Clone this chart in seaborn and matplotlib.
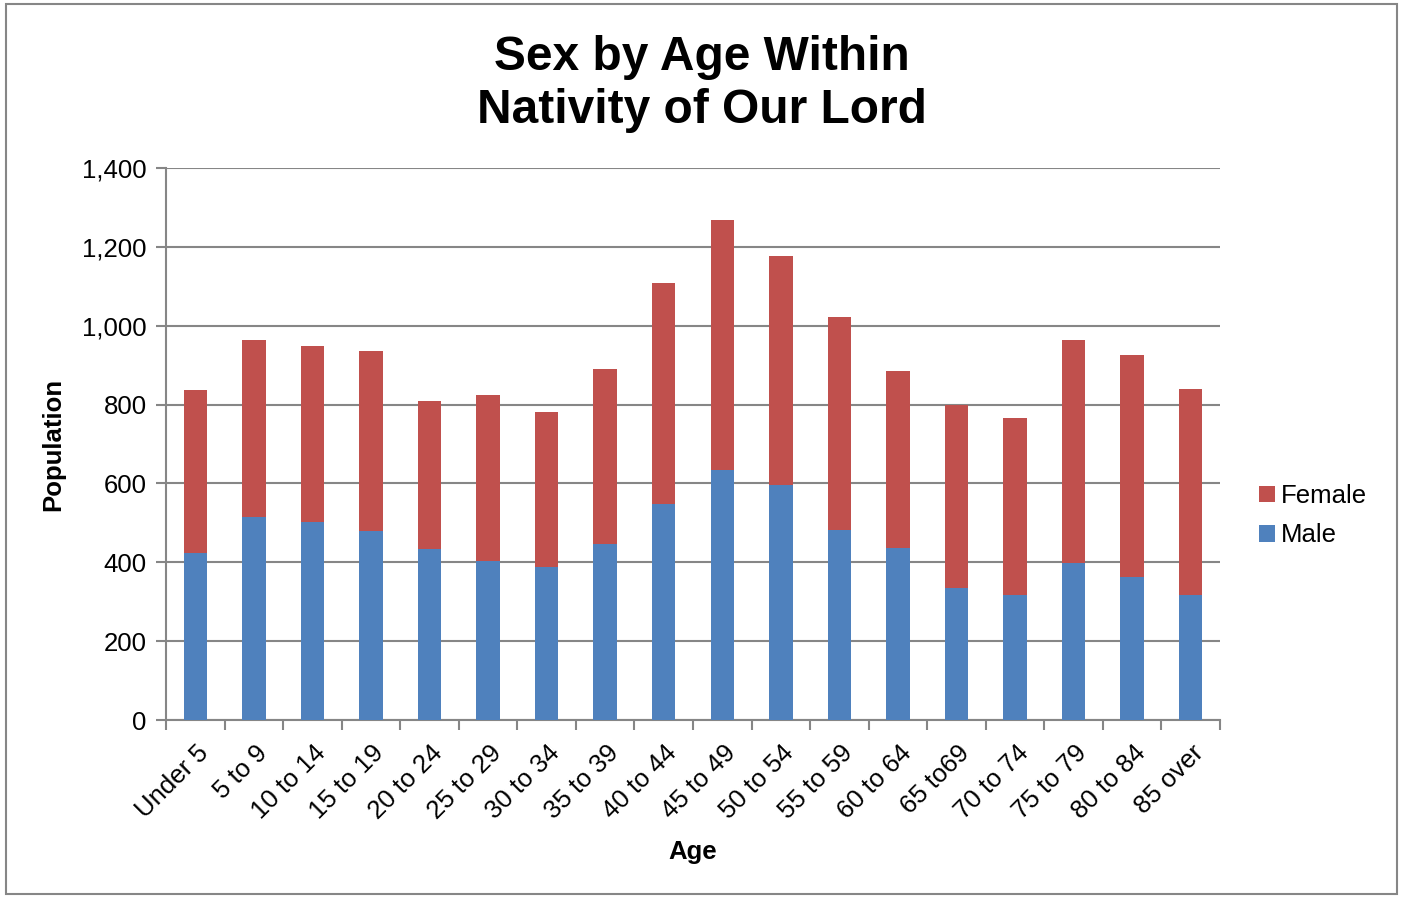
import pandas as pd
import seaborn as sns
import matplotlib.pyplot as plt
from matplotlib.patches import Rectangle
from matplotlib.ticker import FuncFormatter, FixedLocator
from matplotlib.transforms import ScaledTranslation

# Age groups and counts
ages = ["Under 5", "5 to 9", "10 to 14", "15 to 19", "20 to 24", "25 to 29",
        "30 to 34", "35 to 39", "40 to 44", "45 to 49", "50 to 54", "55 to 59",
        "60 to 64", "65 to69", "70 to 74", "75 to 79", "80 to 84", "85 over"]
male = [423, 516, 501, 479, 433, 403, 387, 446, 547, 635, 595, 482,
        437, 334, 316, 397, 363, 316]
female = [414, 447, 447, 458, 375, 422, 393, 445, 562, 632, 581, 540,
          448, 466, 449, 568, 562, 523]

df = pd.DataFrame({"Age": ages, "Male": male, "Female": female})
df["Total"] = df["Male"] + df["Female"]

sns.set_style("white")
plt.rcParams["font.family"] = ["Liberation Sans", "DejaVu Sans"]
plt.rcParams["text.color"] = "black"
plt.rcParams["axes.labelcolor"] = "black"

fig = plt.figure(figsize=(14.03, 8.97), dpi=100)
ax = fig.add_axes([0.1183, 0.1973, 0.7513, 0.6154])

# stacked: draw total in female colour, male on top of it
sns.barplot(data=df, x="Age", y="Total", color="#C0504D", width=0.4,
            saturation=1, ax=ax, label="Female", zorder=3, linewidth=0)
sns.barplot(data=df, x="Age", y="Male", color="#4F81BD", width=0.4,
            saturation=1, ax=ax, label="Male", zorder=3, linewidth=0)

ax.set_ylim(0, 1400)
ax.set_xlim(-0.5, len(ages) - 0.5)
ax.set_yticks(range(0, 1401, 200))
ax.yaxis.set_major_formatter(FuncFormatter(lambda v, p: f"{int(v):,}"))
ax.grid(axis="y", color="#868686", linewidth=1.5, zorder=0)
ax.set_axisbelow(True)

for s in ["top", "right"]:
    ax.spines[s].set_visible(False)
for s in ["left", "bottom"]:
    ax.spines[s].set_color("#868686")
    ax.spines[s].set_linewidth(1.5)

ax.tick_params(axis="y", which="major", left=True, length=7, width=1.5,
               color="#868686", labelcolor="black", labelsize=18.5, pad=7)
ax.tick_params(axis="x", which="major", length=0, labelsize=18.5, pad=15,
               labelcolor="black")
ax.xaxis.set_minor_locator(FixedLocator([i - 0.5 for i in range(len(ages) + 1)]))
ax.tick_params(axis="x", which="minor", bottom=True, length=7, width=1.5,
               color="#868686")
shift = ScaledTranslation(1 / 100, 0, fig.dpi_scale_trans)
for lbl in ax.get_xticklabels():
    lbl.set_rotation(45)
    lbl.set_ha("right")
    lbl.set_rotation_mode("anchor")
    lbl.set_transform(lbl.get_transform() + shift)

ax.set_xlabel("Age", fontsize=18.5, fontweight="bold", labelpad=12)
ax.set_ylabel("Population", fontsize=18.5, fontweight="bold", labelpad=12)

handles, labels = ax.get_legend_handles_labels()
ax.legend(handles, labels, loc="center left", bbox_to_anchor=(1.02, 0.37),
          frameon=False, fontsize=18.5, handlelength=0.6, handleheight=0.6,
          handletextpad=0.25, labelspacing=0.6, borderaxespad=0.3)

fig.text(0.5, 0.906, "Sex by Age Within\nNativity of Our Lord", ha="center",
         va="center", fontsize=34.5, fontweight="bold", linespacing=1.22)

fig.patches.append(Rectangle((0.004, 0.003), 0.992, 0.992, transform=fig.transFigure,
                             fill=False, edgecolor="#868686", linewidth=1.5))

fig.savefig("out.png", dpi=100)
